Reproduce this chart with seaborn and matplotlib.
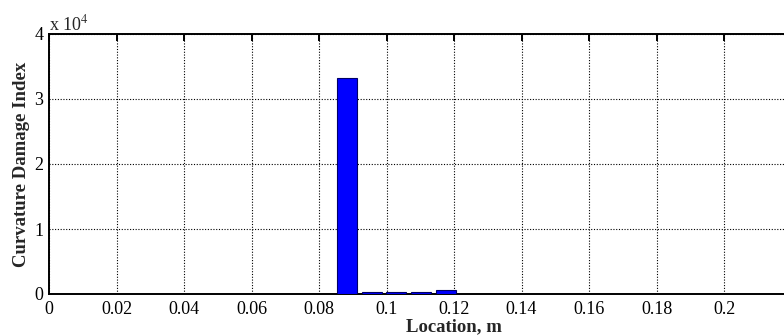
import matplotlib
matplotlib.use("Agg")
import matplotlib.pyplot as plt
import seaborn as sns
import pandas as pd

# Element locations (m) and curvature damage index values
locations = [0.0882, 0.0956, 0.1029, 0.1103, 0.1176]
damage_index = [33300, 350, 300, 300, 600]

x_ticks = [0, 0.02, 0.04, 0.06, 0.08, 0.1, 0.12, 0.14, 0.16, 0.18, 0.2]
y_ticks = [0, 1e4, 2e4, 3e4, 4e4]
y_tick_labels = ["0", "1", "2", "3", "4"]

sns.set_theme(style="white")
plt.rcParams["font.family"] = ["Liberation Serif", "DejaVu Serif"]
plt.rcParams["mathtext.fontset"] = "stix"

df = pd.DataFrame({"Location": locations, "Index": damage_index})

fig = plt.figure(figsize=(7.84, 3.36), dpi=100)
ax = fig.add_axes([49 / 784, 1 - 294 / 336, 810 / 784, 260 / 336])

sns.barplot(data=df, x="Location", y="Index", native_scale=True,
            color="#0000ff", saturation=1, edgecolor="#000066",
            linewidth=0.8, width=0.8, ax=ax, zorder=3)

ax.set_xlim(0, 0.24)
ax.set_ylim(0, 4e4)
ax.set_xticks(x_ticks)
ax.set_xticklabels(["%g" % t for t in x_ticks])
ax.set_yticks(y_ticks)
ax.set_yticklabels(y_tick_labels)

ax.grid(True, color="black", linestyle=(0, (1, 1.5)), linewidth=0.8, zorder=0)
ax.set_axisbelow(True)

for side in ["left", "bottom", "top", "right"]:
    ax.spines[side].set_visible(True)
    ax.spines[side].set_color("black")
    ax.spines[side].set_linewidth(1.4)

ax.tick_params(axis="both", direction="in", length=5, width=1.4,
               top=True, right=True, labelsize=13, colors="black")
ax.tick_params(axis="x", pad=5)
ax.tick_params(axis="y", pad=4)

ax.set_xlabel("Location, m", fontsize=13.5, fontweight="bold", labelpad=0)
ax.set_ylabel("Curvature Damage Index", fontsize=13.5, fontweight="bold",
              labelpad=3)

ax.text(0.0, 1.0, r"x 10$^{4}$", transform=ax.transAxes,
        fontsize=13, ha="left", va="bottom")

fig.savefig("out.png", dpi=100)
